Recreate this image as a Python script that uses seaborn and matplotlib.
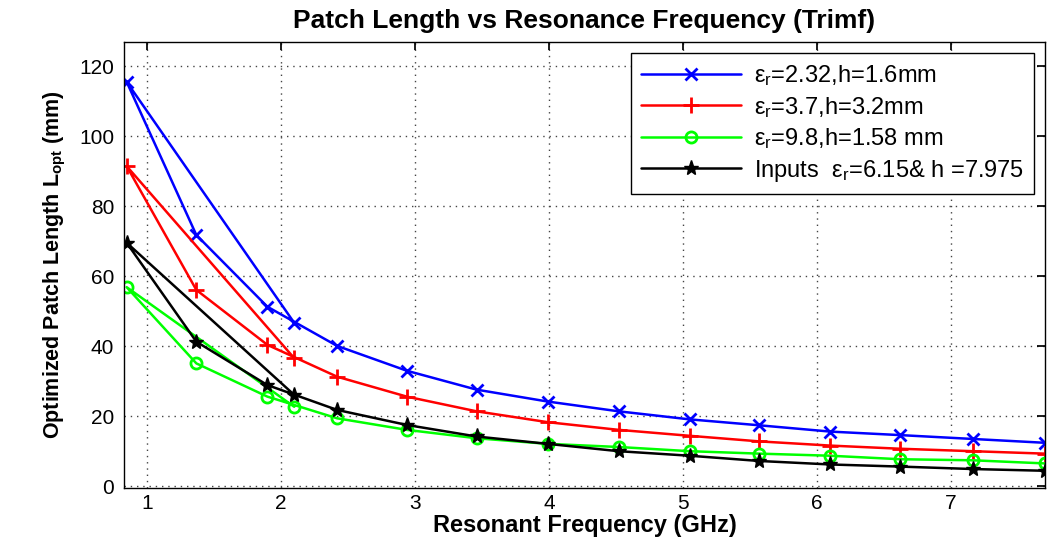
import numpy as np
import pandas as pd
import matplotlib
matplotlib.use("Agg")
import matplotlib.pyplot as plt
import seaborn as sns

# resonant frequency (GHz) of each computed point
freq_ghz = [0.85, 1.37, 1.90, 2.10, 2.42, 2.94, 3.46, 3.99, 4.52, 5.05, 5.57, 6.10, 6.62, 7.16, 7.70]

# optimized patch length (mm) for each substrate
len_232 = [115.6, 71.8, 51.3, 46.7, 40.1, 33.0, 27.6, 24.2, 21.4, 19.1, 17.4, 15.6, 14.6, 13.5, 12.4]
len_37 = [91.5, 56.1, 40.4, 36.6, 31.3, 25.6, 21.4, 18.3, 16.1, 14.4, 12.8, 11.6, 10.7, 10.0, 9.3]
len_98 = [56.9, 35.1, 25.6, 22.7, 19.4, 16.1, 13.7, 12.1, 11.2, 10.0, 9.3, 8.7, 7.7, 7.4, 6.5]
len_inputs = [69.6, 41.3, 28.9, 26.1, 21.8, 17.5, 14.2, 12.1, 10.0, 8.7, 7.2, 6.2, 5.6, 4.9, 4.4]

# the original curves loop back through the 2.1 GHz point
draw_order = [3, 0, 1, 2] + list(range(3, 15))

labels = [
    "ε$_r$=2.32,h=1.6mm",
    "ε$_r$=3.7,h=3.2mm",
    "ε$_r$=9.8,h=1.58 mm",
    "Inputs  ε$_r$=6.15& h =7.975",
]

sns.set_theme(style="white")
plt.rcParams["font.family"] = ["Liberation Sans", "DejaVu Sans"]
plt.rcParams["mathtext.default"] = "regular"
plt.rcParams["text.color"] = "black"
plt.rcParams["axes.labelcolor"] = "black"

fig = plt.figure(figsize=(10.47, 5.43), dpi=100)
ax = fig.add_axes([0.1184, 0.101, 0.8796, 0.8217])

series = [
    (len_232, "#0000ff", "x", dict(markersize=8, markeredgewidth=2)),
    (len_37, "#ff0000", "+", dict(markersize=12, markeredgewidth=2)),
    (len_98, "#00ff00", "o", dict(markersize=8, markeredgewidth=2, fillstyle="none")),
    (len_inputs, "#000000", "*", dict(markersize=11, markeredgewidth=1)),
]

for (vals, color, marker, mk), label in zip(series, labels):
    df = pd.DataFrame({
        "freq": [freq_ghz[i] for i in draw_order],
        "length": [vals[i] for i in draw_order],
    })
    sns.lineplot(data=df, x="freq", y="length", sort=False, ax=ax,
                 color=color, marker=marker, linewidth=1.8, label=label,
                 markeredgecolor=color, **mk)

ax.set_xlim(0.83, 7.7)
ax.set_ylim(-0.57, 127)
ax.set_xticks(range(1, 8))
ax.set_yticks(range(0, 121, 20))
ax.grid(True, linestyle=(0, (1, 3.5)), color="#444444", linewidth=1)
ax.tick_params(direction="in", length=6, top=True, right=True,
               labelsize=15, colors="black", labelcolor="black", pad=7)
ax.tick_params(axis="x", pad=4)
for s in ax.spines.values():
    s.set_color("black")
    s.set_linewidth(1)

ax.set_title("Patch Length vs Resonance Frequency (Trimf)", fontsize=19,
             fontweight="bold", pad=10, color="black")
ax.set_xlabel("Resonant Frequency (GHz)", fontsize=17, fontweight="bold", labelpad=1)
ax.set_ylabel("Optimized Patch Length L$_{opt}$ (mm)", fontsize=15.5,
              fontweight="bold", labelpad=8)

leg = ax.legend(loc="upper right", fontsize=17, handlelength=4.2,
                frameon=True, fancybox=False, framealpha=1,
                borderaxespad=0.45, labelspacing=0.28, borderpad=0.45,
                handletextpad=0.55)
leg.get_frame().set_edgecolor("black")
leg.get_frame().set_linewidth(1)
for t in leg.get_texts():
    t.set_color("black")

plt.savefig("out.png", dpi=100)
